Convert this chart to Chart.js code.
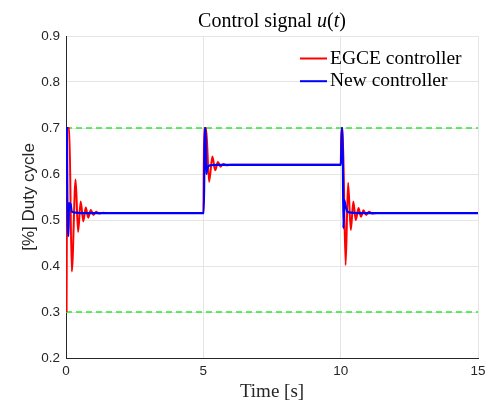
<!DOCTYPE html>
<html lang="en">
<head>
  <meta charset="UTF-8">
  <title>Control signal u(t)</title>
  <script src="https://cdn.jsdelivr.net/npm/chart.js"></script>
  <style>
    html, body { margin: 0; padding: 0; background: #fff; }
    #wrap { width: 494px; height: 404px; }
  </style>
</head>
<body>
  <div id="wrap"><canvas id="dutyChart" width="494" height="404"></canvas></div>

  <script>
    // EGCE controller: saturated kick then a lightly damped ringing after each step
    const egceTime = [0.02, 0.05, 0.12, 0.21, 0.35, 0.44, 0.535, 0.63, 0.72, 0.81, 0.9, 1.0, 1.1, 1.2, 1.35, 1.5,
      5.0, 5.03, 5.1, 5.21, 5.33, 5.43, 5.53, 5.63, 5.73, 5.85, 6.0,
      10.0, 10.03, 10.07, 10.18, 10.27, 10.37, 10.46, 10.55, 10.65, 10.74, 10.83, 10.93, 11.03, 11.15, 11.3, 15];
    const egceDuty = [0.3, 0.7, 0.7, 0.388, 0.588, 0.474, 0.54, 0.497, 0.527, 0.505, 0.522, 0.511, 0.518, 0.514, 0.516, 0.515,
      0.515, 0.7, 0.7, 0.583, 0.638, 0.608, 0.626, 0.616, 0.622, 0.619, 0.62,
      0.62, 0.7, 0.7, 0.402, 0.581, 0.478, 0.54, 0.5, 0.526, 0.507, 0.521, 0.511, 0.518, 0.514, 0.515, 0.515];

    // new controller: short spike, one small dip, settles fast
    const newTime = [0, 0.03, 0.05, 0.09, 0.11, 0.17, 0.21, 0.35, 0.6,
      5.02, 5.05, 5.08, 5.11, 5.15, 5.25, 5.5,
      10.01, 10.04, 10.07, 10.1, 10.13, 10.18, 10.25, 10.4, 10.7, 15];
    const newDuty = [0.7, 0.7, 0.54, 0.465, 0.537, 0.534, 0.518, 0.516, 0.515,
      0.515, 0.7, 0.7, 0.6, 0.614, 0.619, 0.62,
      0.62, 0.7, 0.7, 0.482, 0.543, 0.53, 0.518, 0.516, 0.515, 0.515];

    // saturation limits of the duty cycle
    const limitTime = [0, 15];
    const upperLimit = [0.7, 0.7];
    const lowerLimit = [0.3, 0.3];

    const xTicks = [0, 5, 10, 15];
    const yTicks = [0.2, 0.3, 0.4, 0.5, 0.6, 0.7, 0.8, 0.9];

    const toPoints = (ts, vs) => ts.map((t, i) => ({ x: t, y: vs[i] }));

    const axisColor = '#262626';
    const gridColor = '#e5e5e5';
    const serif = '"Liberation Serif", "Times New Roman", serif';
    const sans = '"Liberation Sans", Arial, sans-serif';

    // title with math-italic u(t), drawn above the plot box
    const titlePlugin = {
      id: 'mathTitle',
      afterDraw(chart) {
        const ctx = chart.ctx, area = chart.chartArea;
        const parts = [
          ['Control signal ', 'normal'], ['u', 'italic'], ['(', 'normal'], ['t', 'italic'], [')', 'normal']
        ];
        ctx.save();
        ctx.fillStyle = '#000';
        ctx.textBaseline = 'alphabetic';
        let total = 0;
        parts.forEach(p => { ctx.font = p[1] + ' 20px ' + serif; total += ctx.measureText(p[0]).width; });
        let x = (area.left + area.right) / 2 - total / 2;
        parts.forEach(p => {
          ctx.font = p[1] + ' 20px ' + serif;
          ctx.fillText(p[0], x, 27);
          x += ctx.measureText(p[0]).width;
        });
        ctx.restore();
      }
    };

    // boxless legend in the upper right of the plot
    const legendPlugin = {
      id: 'innerLegend',
      afterDraw(chart) {
        const ctx = chart.ctx;
        const items = chart.data.datasets.filter(d => d.label);
        ctx.save();
        ctx.font = '19.5px ' + serif;
        ctx.textBaseline = 'alphabetic';
        items.forEach((d, i) => {
          const y = 58.5 + i * 22.7;
          ctx.strokeStyle = d.borderColor;
          ctx.lineWidth = 2;
          ctx.beginPath();
          ctx.moveTo(300, y);
          ctx.lineTo(327, y);
          ctx.stroke();
          ctx.fillStyle = '#000';
          ctx.fillText(d.label, 330, y + 5);
        });
        ctx.restore();
      }
    };

    new Chart(document.getElementById('dutyChart'), {
      type: 'line',
      data: {
        datasets: [
          {
            label: 'EGCE controller',
            data: toPoints(egceTime, egceDuty),
            borderColor: '#ff0000',
            borderWidth: 2,
            cubicInterpolationMode: 'monotone',
            order: 2
          },
          {
            label: 'New controller',
            data: toPoints(newTime, newDuty),
            borderColor: '#0000ff',
            borderWidth: 2.2,
            cubicInterpolationMode: 'monotone',
            order: 1
          },
          {
            data: toPoints(limitTime, upperLimit),
            borderColor: '#2ee82e',
            borderWidth: 1.3,
            borderDash: [6, 4],
            order: 3
          },
          {
            data: toPoints(limitTime, lowerLimit),
            borderColor: '#2ee82e',
            borderWidth: 1.3,
            borderDash: [6, 4],
            order: 3
          }
        ]
      },
      options: {
        responsive: false,
        animation: false,
        layout: { padding: { top: 36, right: 16, left: 0, bottom: 0 } },
        elements: { point: { radius: 0 } },
        plugins: {
          legend: { display: false },
          title: { display: false },
          tooltip: { enabled: false }
        },
        scales: {
          x: {
            type: 'linear',
            min: 0,
            max: 15,
            afterFit(scale) { scale.height = 46; },
            afterBuildTicks(scale) { scale.ticks = xTicks.map(v => ({ value: v })); },
            grid: { color: gridColor, drawTicks: false },
            border: { display: true, color: axisColor, width: 1 },
            ticks: { color: axisColor, padding: 5, font: { family: sans, size: 13.5 } },
            title: {
              display: true,
              text: 'Time [s]',
              color: axisColor,
              padding: { top: 0, bottom: 1 },
              font: { family: serif, size: 19 }
            }
          },
          y: {
            min: 0.2,
            max: 0.9,
            afterFit(scale) { scale.width = 66; },
            afterBuildTicks(scale) { scale.ticks = yTicks.map(v => ({ value: v })); },
            grid: { color: gridColor, drawTicks: false },
            border: { display: true, color: axisColor, width: 1 },
            ticks: {
              color: axisColor,
              padding: 6,
              font: { family: sans, size: 13.5 },
              callback: v => v.toFixed(1)
            },
            title: {
              display: true,
              text: '[%] Duty cycle',
              color: axisColor,
              padding: { top: 19, bottom: 0 },
              font: { family: sans, size: 17 }
            }
          }
        }
      },
      plugins: [titlePlugin, legendPlugin]
    });
  </script>
</body>
</html>
